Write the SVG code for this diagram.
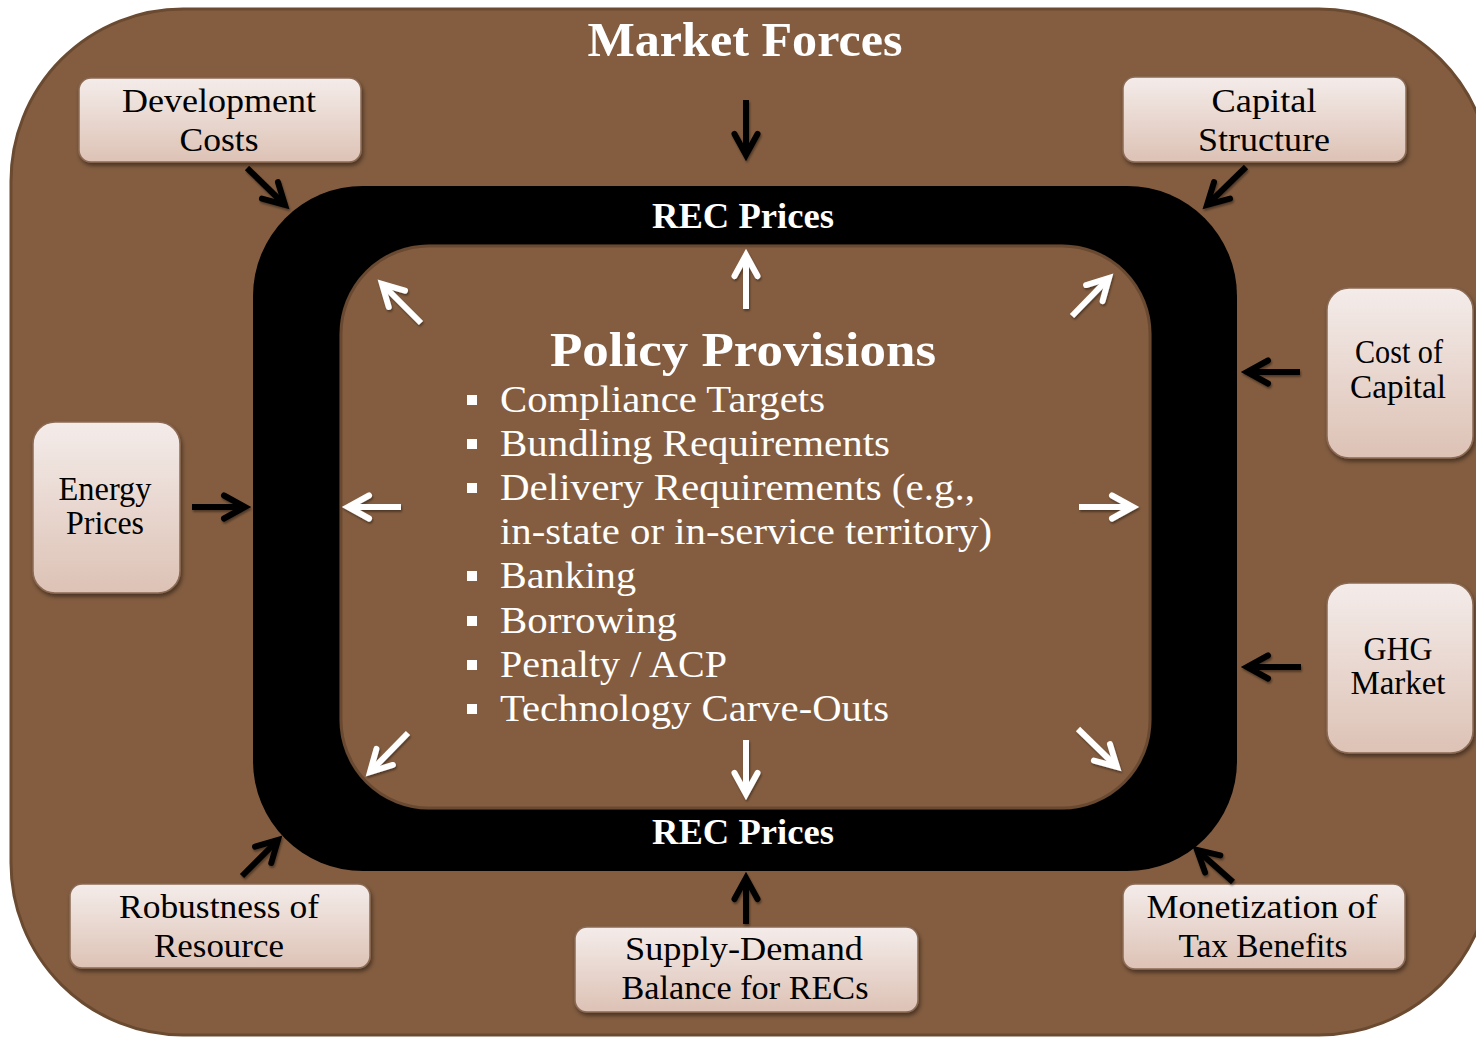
<svg xmlns="http://www.w3.org/2000/svg" width="1476" height="1037" viewBox="0 0 1476 1037">
  <style>
    .lbl { font-family: "Liberation Serif", "DejaVu Serif", serif; font-size: 34px; fill: #000; text-anchor: middle; }
    .head { font-family: "Liberation Serif", "DejaVu Serif", serif; font-weight: bold; fill: #fff; text-anchor: middle; }
    .item { font-family: "Liberation Serif", "DejaVu Serif", serif; font-size: 38px; fill: #fff; }
    .box { fill: url(#boxFill); stroke: #8c6b55; stroke-width: 1.5; filter: url(#shadow); }
    .blk { fill: none; stroke: #000; stroke-width: 6; stroke-linecap: butt; marker-end: url(#headBlack); filter: url(#ashadow); }
    .wht { fill: none; stroke: #fff; stroke-width: 6; stroke-linecap: butt; marker-end: url(#headWhite); filter: url(#ashadow); }
    .bullet { fill: #fff; }
  </style>
  <defs>
    <linearGradient id="boxFill" x1="0" y1="0" x2="0" y2="1">
      <stop offset="0" stop-color="#f4ecea"/>
      <stop offset="1" stop-color="#ddc2b5"/>
    </linearGradient>
    <filter id="shadow" x="-10%" y="-10%" width="125%" height="130%">
      <feDropShadow dx="1.5" dy="3" stdDeviation="2" flood-color="#000" flood-opacity="0.45"/>
    </filter>
    <!-- user-space region so straight horizontal/vertical lines still render -->
    <filter id="ashadow" filterUnits="userSpaceOnUse" x="0" y="0" width="1476" height="1037">
      <feDropShadow dx="1" dy="2" stdDeviation="1.2" flood-color="#000" flood-opacity="0.4"/>
    </filter>
    <filter id="coreShadow" x="-5%" y="-5%" width="110%" height="110%">
      <feDropShadow dx="0" dy="0" stdDeviation="2" flood-color="#000" flood-opacity="0.5"/>
    </filter>
    <marker id="headBlack" viewBox="-32 -20 44 40" refX="0" refY="0" markerWidth="44" markerHeight="40" markerUnits="userSpaceOnUse" orient="auto">
      <path d="M -21,-11.5 L 0,0 L -21,11.5" fill="none" stroke="#000" stroke-width="6" stroke-linecap="round" stroke-linejoin="miter" stroke-miterlimit="6"/>
    </marker>
    <marker id="headWhite" viewBox="-32 -20 44 40" refX="0" refY="0" markerWidth="44" markerHeight="40" markerUnits="userSpaceOnUse" orient="auto">
      <path d="M -21,-11.5 L 0,0 L -21,11.5" fill="none" stroke="#fff" stroke-width="6" stroke-linecap="round" stroke-linejoin="miter" stroke-miterlimit="6"/>
    </marker>
  </defs>

  <!-- market forces backdrop -->
  <g id="market-forces">
    <rect x="11" y="9" width="1480" height="1026" rx="172" ry="172" fill="#845d40" stroke="#6a4a30" stroke-width="3"/>
    <text class="head" x="745" y="56" font-size="48" textLength="315" lengthAdjust="spacingAndGlyphs">Market Forces</text>
  </g>

  <!-- REC price ring and policy core -->
  <g id="rec-prices">
    <rect x="253" y="186" width="984" height="685" rx="110" ry="110" fill="#000"/>
    <text class="head" x="743" y="228" font-size="36" textLength="182" lengthAdjust="spacingAndGlyphs">REC Prices</text>
    <text class="head" x="743" y="844" font-size="36" textLength="182" lengthAdjust="spacingAndGlyphs">REC Prices</text>
  </g>

  <g id="policy-provisions">
    <rect x="341" y="246" width="809" height="562" rx="88" ry="88" fill="#845d40" stroke="#6a4a30" stroke-width="3" filter="url(#coreShadow)"/>
    <text class="head" x="743" y="366" font-size="48" textLength="386" lengthAdjust="spacingAndGlyphs">Policy Provisions</text>
    <rect class="bullet" x="467" y="395" width="10" height="10"/>
    <rect class="bullet" x="467" y="439" width="10" height="10"/>
    <rect class="bullet" x="467" y="483" width="10" height="10"/>
    <rect class="bullet" x="467" y="571" width="10" height="10"/>
    <rect class="bullet" x="467" y="616" width="10" height="10"/>
    <rect class="bullet" x="467" y="660" width="10" height="10"/>
    <rect class="bullet" x="467" y="704" width="10" height="10"/>
    <text class="item" x="500" y="412" textLength="325" lengthAdjust="spacingAndGlyphs">Compliance Targets</text>
    <text class="item" x="500" y="456" textLength="390" lengthAdjust="spacingAndGlyphs">Bundling Requirements</text>
    <text class="item" x="500" y="500" textLength="475" lengthAdjust="spacingAndGlyphs">Delivery Requirements  (e.g.,</text>
    <text class="item" x="500" y="544" textLength="492" lengthAdjust="spacingAndGlyphs">in-state or in-service territory)</text>
    <text class="item" x="500" y="588" textLength="136" lengthAdjust="spacingAndGlyphs">Banking</text>
    <text class="item" x="500" y="633" textLength="177" lengthAdjust="spacingAndGlyphs">Borrowing</text>
    <text class="item" x="500" y="677" textLength="227" lengthAdjust="spacingAndGlyphs">Penalty / ACP</text>
    <text class="item" x="500" y="721" textLength="389" lengthAdjust="spacingAndGlyphs">Technology Carve-Outs</text>
  </g>

  <!-- factor nodes -->
  <g id="development-costs">
    <rect class="box" x="79" y="78" width="282" height="84" rx="12"/>
    <text class="lbl" x="219" y="112" textLength="194" lengthAdjust="spacingAndGlyphs">Development</text>
    <text class="lbl" x="219" y="151" textLength="79" lengthAdjust="spacingAndGlyphs">Costs</text>
  </g>
  <g id="capital-structure">
    <rect class="box" x="1123" y="77" width="283" height="85" rx="12"/>
    <text class="lbl" x="1264" y="112" textLength="105" lengthAdjust="spacingAndGlyphs">Capital</text>
    <text class="lbl" x="1264" y="151" textLength="132" lengthAdjust="spacingAndGlyphs">Structure</text>
  </g>
  <g id="cost-of-capital">
    <rect class="box" x="1327" y="288" width="146" height="170" rx="22"/>
    <text class="lbl" x="1399" y="363" font-size="31" textLength="88" lengthAdjust="spacingAndGlyphs">Cost of</text>
    <text class="lbl" x="1398" y="398" font-size="31" textLength="96" lengthAdjust="spacingAndGlyphs">Capital</text>
  </g>
  <g id="energy-prices">
    <rect class="box" x="33" y="422" width="147" height="171" rx="22"/>
    <text class="lbl" x="105" y="500" font-size="31" textLength="93" lengthAdjust="spacingAndGlyphs">Energy</text>
    <text class="lbl" x="105" y="534" font-size="31" textLength="78" lengthAdjust="spacingAndGlyphs">Prices</text>
  </g>
  <g id="ghg-market">
    <rect class="box" x="1327" y="583" width="146" height="170" rx="22"/>
    <text class="lbl" x="1398" y="660" font-size="31" textLength="69" lengthAdjust="spacingAndGlyphs">GHG</text>
    <text class="lbl" x="1398" y="694" font-size="31" textLength="95" lengthAdjust="spacingAndGlyphs">Market</text>
  </g>
  <g id="robustness-of-resource">
    <rect class="box" x="70" y="884" width="300" height="84" rx="12"/>
    <text class="lbl" x="219" y="918" textLength="200" lengthAdjust="spacingAndGlyphs">Robustness of</text>
    <text class="lbl" x="219" y="957" textLength="130" lengthAdjust="spacingAndGlyphs">Resource</text>
  </g>
  <g id="supply-demand-balance">
    <rect class="box" x="575" y="927" width="343" height="85" rx="12"/>
    <text class="lbl" x="744" y="960" textLength="238" lengthAdjust="spacingAndGlyphs">Supply-Demand</text>
    <text class="lbl" x="745" y="999" textLength="247" lengthAdjust="spacingAndGlyphs">Balance for RECs</text>
  </g>
  <g id="monetization-of-tax-benefits">
    <rect class="box" x="1123" y="884" width="282" height="85" rx="12"/>
    <text class="lbl" x="1262" y="918" textLength="231" lengthAdjust="spacingAndGlyphs">Monetization of</text>
    <text class="lbl" x="1263" y="957" textLength="169" lengthAdjust="spacingAndGlyphs">Tax Benefits</text>
  </g>

  <!-- connectors: shafts end just short of the tip, the marker chevron carries the point -->
  <g id="connectors">
    <!-- inbound market forces -->
    <line class="blk" x1="746" y1="100" x2="746" y2="155"/>
    <line class="blk" x1="247" y1="168" x2="285" y2="205"/>
    <line class="blk" x1="1246" y1="167" x2="1207" y2="205"/>
    <line class="blk" x1="1300" y1="372" x2="1247" y2="372"/>
    <line class="blk" x1="192" y1="507" x2="245" y2="507"/>
    <line class="blk" x1="1301" y1="667" x2="1247" y2="667"/>
    <line class="blk" x1="1233" y1="882" x2="1197" y2="850"/>
    <line class="blk" x1="242" y1="876" x2="278" y2="840"/>
    <line class="blk" x1="746" y1="924" x2="746" y2="878"/>
    <!-- outbound policy effects -->
    <line class="wht" x1="746" y1="309" x2="746" y2="255"/>
    <line class="wht" x1="421" y1="323" x2="382" y2="284"/>
    <line class="wht" x1="1072" y1="316" x2="1109" y2="278"/>
    <line class="wht" x1="401" y1="507" x2="348" y2="507"/>
    <line class="wht" x1="1079" y1="507" x2="1133" y2="507"/>
    <line class="wht" x1="408" y1="733" x2="370" y2="772"/>
    <line class="wht" x1="1078" y1="729" x2="1117" y2="767"/>
    <line class="wht" x1="746" y1="740" x2="746" y2="794"/>
  </g>
</svg>
